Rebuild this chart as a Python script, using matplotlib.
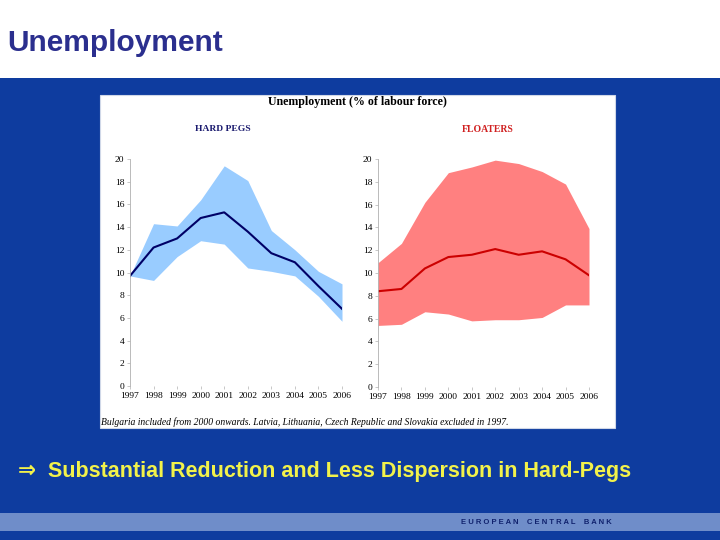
import matplotlib
matplotlib.use("Agg")
import matplotlib.pyplot as plt
from matplotlib.patches import Rectangle

years = [1997, 1998, 1999, 2000, 2001, 2002, 2003, 2004, 2005, 2006]
year_labels = [str(y) for y in years]

hard_mean = [9.7, 12.2, 13.0, 14.8, 15.3, 13.6, 11.7, 10.9, 8.8, 6.8]
hard_upper = [9.7, 14.3, 14.1, 16.4, 19.4, 18.1, 13.7, 12.0, 10.1, 9.0]
hard_lower = [9.7, 9.3, 11.4, 12.8, 12.5, 10.4, 10.1, 9.7, 7.9, 5.7]

float_mean = [8.4, 8.6, 10.4, 11.4, 11.6, 12.1, 11.6, 11.9, 11.2, 9.8]
float_upper = [10.9, 12.6, 16.2, 18.8, 19.3, 19.9, 19.6, 18.9, 17.8, 13.9]
float_lower = [5.4, 5.5, 6.6, 6.4, 5.8, 5.9, 5.9, 6.1, 7.2, 7.2]

y_ticks = [0, 2, 4, 6, 8, 10, 12, 14, 16, 18, 20]

W, H = 720, 540
fig = plt.figure(figsize=(7.2, 5.4), dpi=100)

def fx(px):
    return px / W

def fy(py):
    return 1 - py / H

# slide background
fig.patches.append(Rectangle((0, 0), 1, 1, transform=fig.transFigure,
                             facecolor="#0E3C9F", edgecolor="none", zorder=0))
fig.patches.append(Rectangle((0, fy(78)), 1, 78 / H, transform=fig.transFigure,
                             facecolor="white", edgecolor="none", zorder=1))
fig.patches.append(Rectangle((0, fy(531)), 1, 18 / H, transform=fig.transFigure,
                             facecolor="#6F8DC9", edgecolor="none", zorder=1))
# white chart panel
fig.patches.append(Rectangle((fx(100), fy(428)), 515 / W, 333 / H, transform=fig.transFigure,
                             facecolor="white", edgecolor="#D0D8E8", linewidth=0.8, zorder=2))

fig.text(fx(7), fy(43), "Unemployment", fontsize=21.5, fontweight="bold",
         color="#2B2F8E", family=["Liberation Sans", "DejaVu Sans"], va="center", ha="left")

fig.text(fx(18), fy(471), "\u21d2  Substantial Reduction and Less Dispersion in Hard-Pegs",
         fontsize=15.5, fontweight="bold", color="#F2F24A",
         family=["Liberation Sans", "DejaVu Sans"], va="center", ha="left")

fig.text(fx(536), fy(523), "E U R O P E A N    C E N T R A L    B A N K", fontsize=5.5,
         color="#10226E", family=["Liberation Sans"], va="center", ha="center", fontweight="bold")

fig.text(fx(357), fy(102), "Unemployment (% of labour force)", fontsize=8.6, fontweight="bold",
         family=["Liberation Serif"], ha="center", va="center", color="black", zorder=5)
fig.text(fx(223), fy(129), "HARD PEGS", fontsize=6.8, fontweight="bold",
         family=["Liberation Serif"], ha="center", va="center", color="#1A1A6E", zorder=5)
fig.text(fx(488), fy(129), "FLOATERS", fontsize=7, fontweight="bold",
         family=["Liberation Serif"], ha="center", va="center", color="#D02020", zorder=5)
fig.text(fx(101), fy(422),
         "Bulgaria included from 2000 onwards. Latvia, Lithuania, Czech Republic and Slovakia excluded in 1997.",
         fontsize=6.9, style="italic", family=["Liberation Serif"], ha="left", va="center",
         color="black", zorder=5)

def make_axes(rect, lower, upper, mean, fill_color, line_color):
    ax = fig.add_axes(rect, zorder=4)
    ax.set_facecolor("none")
    ax.fill_between(years, lower, upper, color=fill_color, linewidth=0)
    ax.plot(years, mean, color=line_color, linewidth=1.5)
    ax.set_xlim(years[0], years[-1])
    ax.set_ylim(0, 20)
    ax.set_yticks(y_ticks)
    ax.set_yticklabels([str(t) for t in y_ticks])
    ax.set_xticks(years)
    ax.set_xticklabels(year_labels)
    for s in ["top", "right", "bottom"]:
        ax.spines[s].set_visible(False)
    ax.spines["left"].set_color("#B0B0B0")
    ax.spines["left"].set_linewidth(0.6)
    ax.tick_params(axis="both", labelsize=6.8, length=2, width=0.5, color="#B0B0B0", pad=2)
    for lab in ax.get_xticklabels() + ax.get_yticklabels():
        lab.set_family("Liberation Serif")
    return ax

make_axes([fx(130), fy(386), 212 / W, 227 / H], hard_lower, hard_upper, hard_mean,
          "#99CCFF", "#000066")
make_axes([fx(378), fy(387), 211 / W, 228 / H], float_lower, float_upper, float_mean,
          "#FF8080", "#CC0000")

fig.savefig("out.png", dpi=100)
